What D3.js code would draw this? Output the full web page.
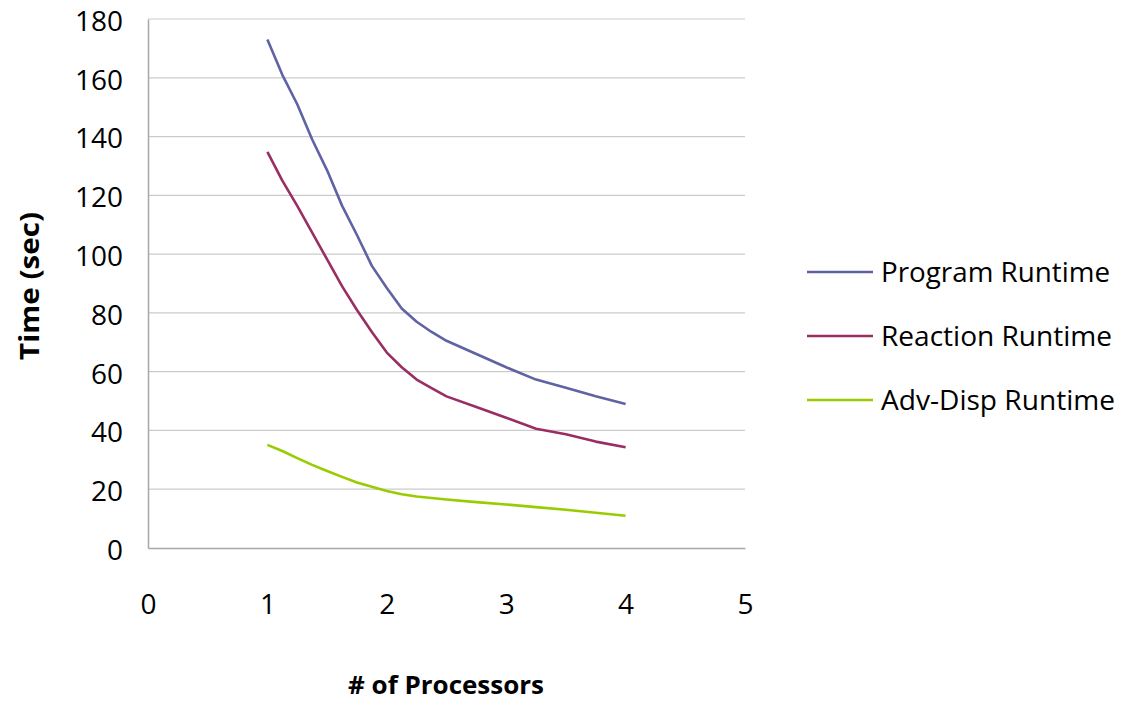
<!DOCTYPE html>
<html>
<head>
<meta charset="utf-8">
<script src="https://cdn.jsdelivr.net/npm/d3@7/dist/d3.min.js"></script>
<style>
  html, body { margin: 0; padding: 0; background: #ffffff; }
  svg { display: block; }
  text { font-family: "Open Sans", "Liberation Sans", sans-serif; fill: #000; }
</style>
</head>
<body>
<svg id="chart" width="1126" height="702"></svg>
<script>
// Processor counts (x) shared by every series
const processors = [1, 1.125, 1.25, 1.375, 1.5, 1.625, 1.75, 1.875, 2, 2.125, 2.25, 2.375, 2.5, 2.75, 3, 3.25, 3.5, 3.75, 4];

// Runtimes in seconds
const programRuntime  = [173, 161, 151, 139, 128.5, 116.5, 106.5, 96, 88.5, 81.5, 77, 73.5, 70.5, 66, 61.5, 57.3, 54.5, 51.6, 49];
const reactionRuntime = [134.8, 125, 116.4, 107.3, 98.2, 89.1, 81, 73.5, 66.5, 61.5, 57.3, 54.4, 51.6, 48, 44.3, 40.6, 38.7, 36.2, 34.3];
const advDispRuntime  = [35.1, 33, 30.6, 28.3, 26.2, 24.2, 22.3, 20.8, 19.4, 18.3, 17.5, 17.0, 16.5, 15.6, 14.8, 13.9, 13.0, 12.0, 11.0];

const seriesNames  = ["Program Runtime", "Reaction Runtime", "Adv-Disp Runtime"];
const seriesColors = ["#5f62a3", "#9a2d62", "#99cc00"];
const seriesValues = [programRuntime, reactionRuntime, advDispRuntime];

const xTicks = [0, 1, 2, 3, 4, 5];
const yTicks = [0, 20, 40, 60, 80, 100, 120, 140, 160, 180];

const svg = d3.select("#chart");
const plot = { left: 148, right: 745, top: 19, bottom: 548 };

const x = d3.scaleLinear().domain([0, 5]).range([plot.left, plot.right]);
const y = d3.scaleLinear().domain([0, 180]).range([plot.bottom, plot.top]);

// Horizontal gridlines
svg.append("g")
  .selectAll("line")
  .data(yTicks.filter(d => d > 0))
  .join("line")
  .attr("x1", plot.left).attr("x2", plot.right)
  .attr("y1", d => y(d)).attr("y2", d => y(d))
  .attr("stroke", "#cbcbcb").attr("stroke-width", 1.2);

// Y axis
const yAxis = svg.append("g")
  .attr("transform", `translate(${plot.left},0)`)
  .call(d3.axisLeft(y).tickValues(yTicks).tickFormat(d3.format("d")).tickSize(0).tickPadding(25));
yAxis.select(".domain").attr("stroke", "#a8a8a8").attr("stroke-width", 1.5);
yAxis.selectAll("text")
  .attr("dy", "0.42em")
  .style("font-size", "27px")
  .style("font-family", "'Open Sans', sans-serif")
  .attr("textLength", d => String(d).length * 16)
  .attr("lengthAdjust", "spacingAndGlyphs")
  .attr("fill", "#000");

// X axis
const xAxis = svg.append("g")
  .attr("transform", `translate(0,${plot.bottom})`)
  .call(d3.axisBottom(x).tickValues(xTicks).tickFormat(d3.format("d")).tickSize(0).tickPadding(46));
xAxis.select(".domain").attr("stroke", "#a8a8a8").attr("stroke-width", 1.5);
xAxis.selectAll("text")
  .style("font-size", "28px")
  .style("font-family", "'Open Sans', sans-serif")
  .attr("fill", "#000");

// Series lines
const line = d3.line()
  .x((d, i) => x(processors[i]))
  .y(d => y(d));

svg.append("g")
  .selectAll("path")
  .data(seriesValues)
  .join("path")
  .attr("d", d => line(d))
  .attr("fill", "none")
  .attr("stroke", (d, i) => seriesColors[i])
  .attr("stroke-width", 2.6)
  .attr("stroke-linejoin", "round");

// Axis titles
svg.append("text")
  .attr("x", 446)
  .attr("y", 694)
  .attr("text-anchor", "middle")
  .style("font-size", "25px")
  .style("font-weight", "bold")
  .attr("textLength", 196)
  .attr("lengthAdjust", "spacingAndGlyphs")
  .text("# of Processors");

svg.append("text")
  .attr("transform", "translate(39,286) rotate(-90)")
  .attr("text-anchor", "middle")
  .style("font-size", "26px")
  .style("font-weight", "bold")
  .attr("textLength", 148)
  .attr("lengthAdjust", "spacingAndGlyphs")
  .text("Time (sec)");

// Legend
const legendRows = [272, 336, 400];
const legendWidths = [229, 231, 234];
const legend = svg.append("g");
seriesNames.forEach((name, i) => {
  legend.append("line")
    .attr("x1", 807).attr("x2", 873)
    .attr("y1", legendRows[i]).attr("y2", legendRows[i])
    .attr("stroke", seriesColors[i]).attr("stroke-width", 2.6);
  legend.append("text")
    .attr("x", 881)
    .attr("y", legendRows[i] + 10)
    .style("font-size", "27px")
    .attr("textLength", legendWidths[i])
    .attr("lengthAdjust", "spacingAndGlyphs")
    .text(name);
});
</script>
</body>
</html>
